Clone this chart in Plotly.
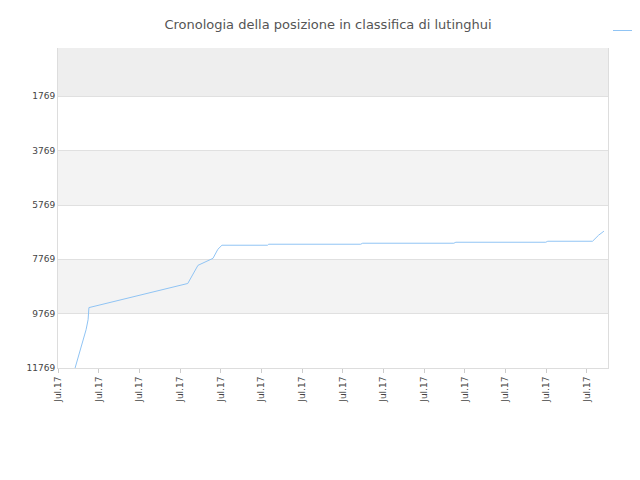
import plotly.graph_objects as go

x_pos = [0.42, 0.49, 0.69, 0.74, 0.76, 3.19, 3.44, 3.81, 3.93, 4.03, 5.15, 5.18, 7.44, 7.49, 9.73, 9.78, 11.99, 12.04, 13.14, 13.29, 13.42]
ranks = [11769, 11399, 10360, 9990, 9546, 8658, 7991, 7732, 7399, 7250, 7250, 7213, 7213, 7176, 7176, 7140, 7140, 7103, 7103, 6880, 6732]
tick_vals = list(range(14))
tick_text = ["Jul.17"] * 14
y_ticks = [1769, 3769, 5769, 7769, 9769, 11769]
y_text = ["1769", "3769", "5769", "7769", "9769", "11769"]

fig = go.Figure()
bands = [(-10, 1769, "#eeeeee"), (3769, 5769, "#f3f3f3"), (7769, 9769, "#f3f3f3")]
for y0, y1, c in bands:
    fig.add_shape(type="rect", xref="paper", yref="y", x0=0, x1=1, y0=y0, y1=y1,
                  fillcolor=c, line_width=0, layer="below")
fig.add_trace(go.Scatter(x=x_pos, y=ranks, mode="lines", name="lutinghui",
                         line=dict(color="#90c4f4", width=1)))
fig.update_layout(
    width=640, height=480, paper_bgcolor="white", plot_bgcolor="white",
    margin=dict(l=50, r=40, t=40, b=120, autoexpand=False),
    title=dict(text="Cronologia della posizione in classifica di lutinghui", x=0.5, y=0.975,
               font=dict(family="DejaVu Sans", size=13, color="#555")),
    font=dict(family="DejaVu Sans", size=9, color="#444"),
    showlegend=True,
    legend=dict(x=1.0, y=1.1, xanchor="left", yanchor="top", font=dict(size=9),
                bgcolor="rgba(0,0,0,0)"),
)
fig.update_xaxes(range=[0, 13.52], tickvals=tick_vals, ticktext=tick_text, tickangle=-90,
                 showgrid=False, showline=True, linecolor="#ddd", ticks="outside",
                 ticklen=4, tickcolor="#ccc", zeroline=False, automargin=False)
fig.update_yaxes(range=[11769, -10], tickvals=y_ticks, ticktext=y_text, showgrid=True,
                 gridcolor="#e0e0e0", showline=True, linecolor="#ddd", zeroline=False,
                 ticks="", mirror=True, automargin=False)
fig.write_html("out.html")
